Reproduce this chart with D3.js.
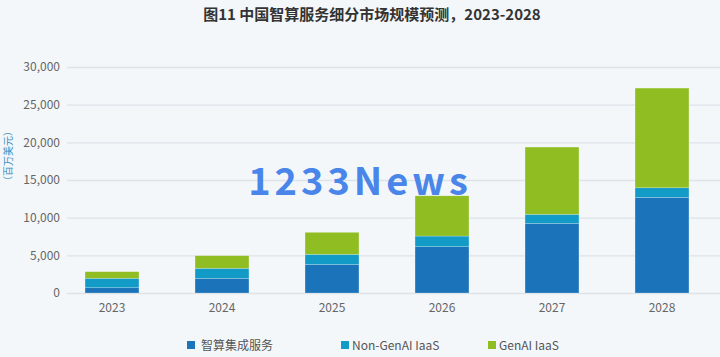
<!DOCTYPE html>
<html><head><meta charset="utf-8">
<script src="https://cdn.jsdelivr.net/npm/d3@7"></script>
<style>
html,body{margin:0;padding:0;background:#f3f7fa;}
svg{display:block;}
text{font-family:"Noto Sans CJK SC","Noto Sans",sans-serif;}
</style></head>
<body>
<svg id="c" width="720" height="357"></svg>
<script>
const years = ["2023","2024","2025","2026","2027","2028"];
const seriesNames = ["智算集成服务","Non-GenAI IaaS","GenAI IaaS"];
const integrated = [700, 1950, 3800, 6150, 9250, 12700];
const nonGenAI = [1250, 1330, 1330, 1410, 1190, 1270];
const genAI = [880, 1670, 2920, 5340, 8930, 13230];
const yTicks = [0, 5000, 10000, 15000, 20000, 25000, 30000];
const colors = ["#1b74ba", "#129bc7", "#8fbd22"];

const svg = d3.select("#c");
svg.append("rect").attr("width",720).attr("height",357).attr("fill","#f3f7fa");

const x = d3.scaleBand().domain(years).range([57,717]).paddingInner(0.51).paddingOuter(0.255);
const y = d3.scaleLinear().domain([0,30000]).range([293,67]);

const rows = years.map((yr,i)=>({year:yr, s0:integrated[i], s1:nonGenAI[i], s2:genAI[i]}));
const stack = d3.stack().keys(["s0","s1","s2"])(rows);

// grid
const ga = svg.append("g").attr("transform","translate(67,0)")
  .call(d3.axisRight(y).tickValues(yTicks).tickSize(653).tickFormat(""));
ga.select(".domain").remove();
ga.selectAll("line").attr("stroke","#dde3e8").attr("stroke-width",1.3);

// y labels
const yl = svg.append("g").attr("transform","translate(60,0)")
  .call(d3.axisLeft(y).tickValues(yTicks).tickSize(0).tickPadding(0).tickFormat(d3.format(",")));
yl.select(".domain").remove();
yl.selectAll("text").attr("fill","#666").attr("font-size",12).attr("font-family","'Noto Sans',sans-serif");

// bars
svg.append("g").selectAll("g").data(stack).join("g")
  .attr("fill",(d,i)=>colors[i])
  .selectAll("rect").data(d=>d).join("rect")
  .attr("x",d=>x(d.data.year)).attr("width",x.bandwidth())
  .attr("y",d=>y(d[1])).attr("height",d=>y(d[0])-y(d[1]))
  .attr("stroke","#ffffff").attr("stroke-opacity",0.35).attr("stroke-width",0.6);

// x labels
const xl = svg.append("g").attr("transform","translate(0,301)")
  .call(d3.axisBottom(x).tickSize(0).tickPadding(2));
xl.select(".domain").remove();
xl.selectAll("text").attr("fill","#666").attr("font-size",12).attr("font-family","'Noto Sans',sans-serif");

// title
svg.append("text").attr("x",372).attr("y",20).attr("text-anchor","middle")
  .attr("font-size",15).attr("font-weight","bold").attr("fill","#333")
  .text("图11 中国智算服务细分市场规模预测，2023-2028");

// y-axis unit
svg.append("text").attr("transform","translate(12,156) rotate(-90)")
  .attr("text-anchor","middle").attr("font-size",10).attr("fill","#3e8fbf")
  .text("（百万美元）");

// legend
const legX = [187, 341, 488];
const lg = svg.append("g").selectAll("g").data(seriesNames).join("g")
  .attr("transform",(d,i)=>`translate(${legX[i]},341)`);
lg.append("rect").attr("width",8).attr("height",8).attr("fill",(d,i)=>colors[i]);
lg.append("text").attr("x",(d,i)=>i===0?14:11).attr("y",8.5).attr("font-size",12).attr("fill","#555")
  .text(d=>d);

// watermark
svg.append("text").attr("x",360).attr("y",195).attr("text-anchor","middle")
  .attr("font-size",38).attr("font-weight","bold").attr("fill","#4a86ea")
  .attr("letter-spacing",4).attr("font-family","'DejaVu Sans',sans-serif")
  .text("1233News");
</script>
</body></html>
